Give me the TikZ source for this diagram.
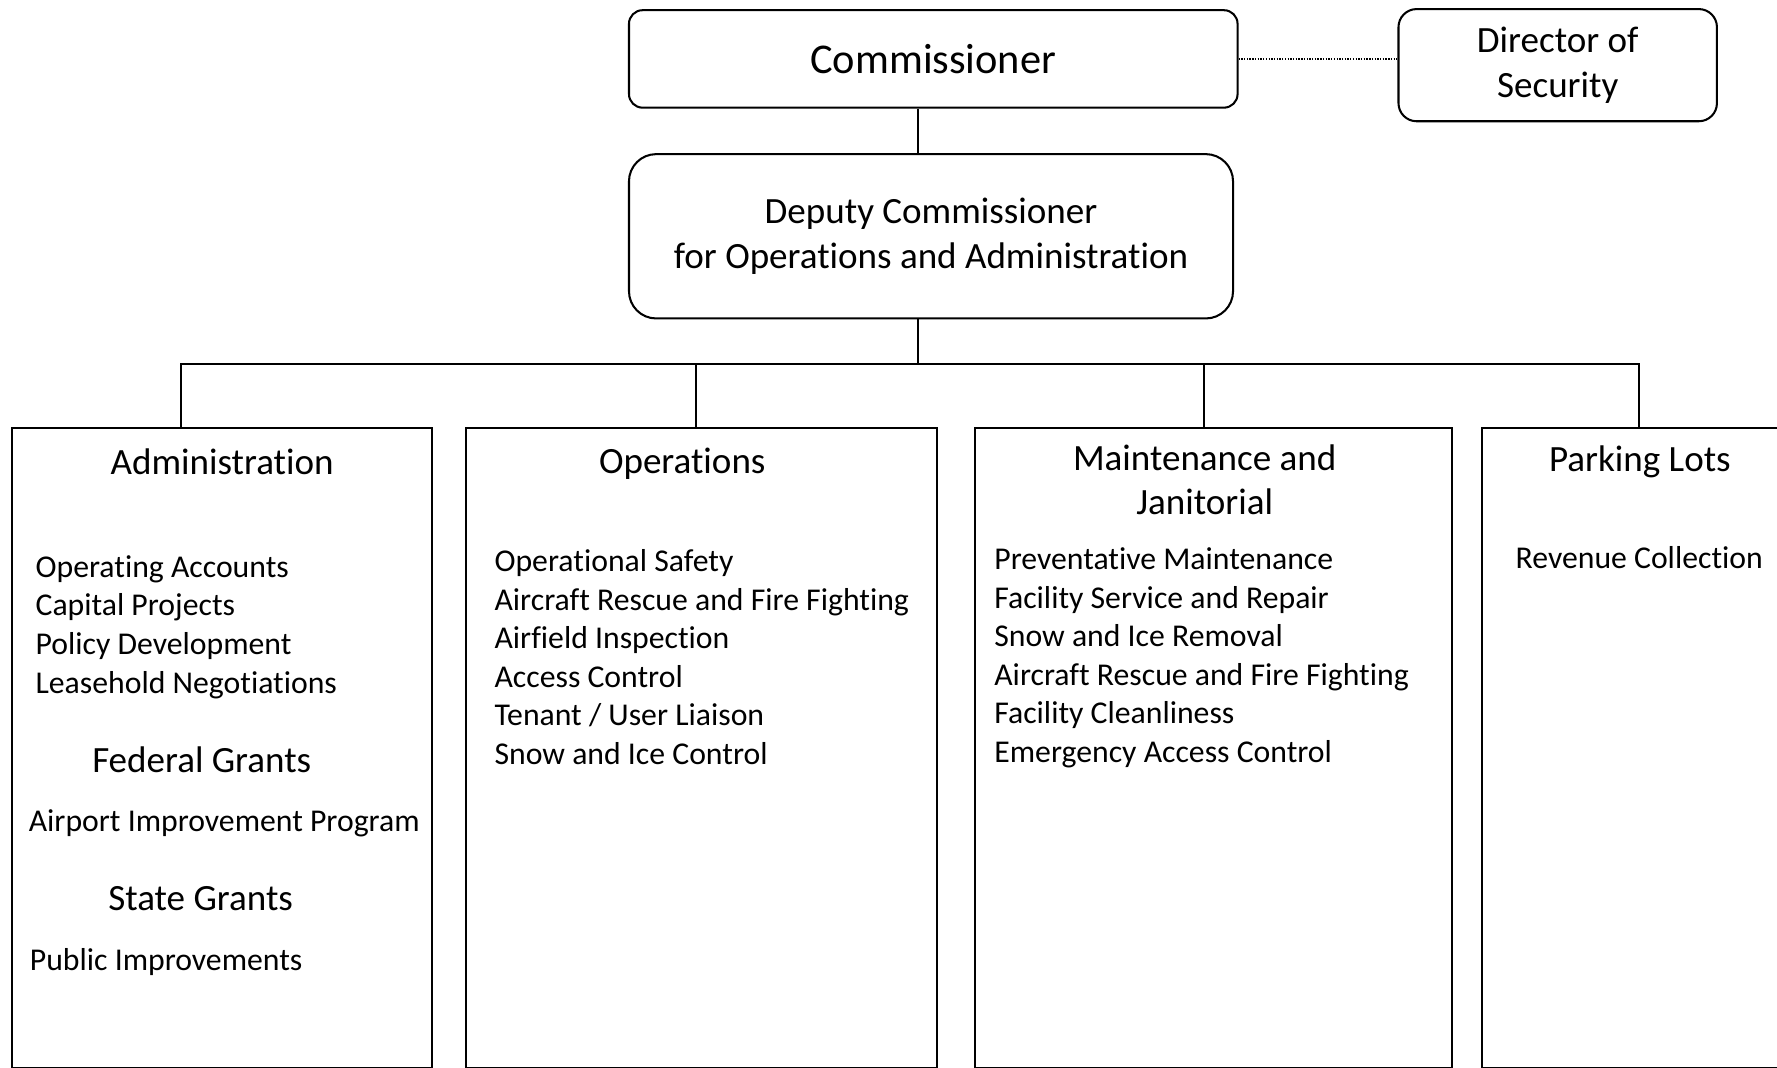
\documentclass[tikz,border=0pt]{standalone}
\usepackage{fontspec}
\setmainfont{Carlito}[Ligatures=NoCommon]
\usepackage{tikz}

\begin{document}
\begin{tikzpicture}[x=0.5pt,y=-0.5pt]
% Styles
\tikzstyle{lien}=[line width=0.9pt]
\tikzstyle{pointille}=[line width=0.6pt,dash pattern=on 0.6pt off 0.6pt]
\tikzstyle{chef}=[draw,line width=0.9pt,align=center]
\tikzstyle{service}=[draw,line width=0.9pt,anchor=north west,inner sep=0pt]
\tikzstyle{titre}=[anchor=base,align=center,inner sep=0pt,font=\fontsize{16.35}{19.5}\selectfont]
\tikzstyle{liste}=[anchor=base west,align=left,inner sep=0pt,font=\fontsize{14}{17}\selectfont]
% Dimensions (base = ligne du bas)
\def\U{0.5pt}
\def\HautServices{376.5}
\def\HautService{565}
\def\Bus{321}
% Cadre
\clip (0,0) rectangle (1568,942);
% Noeuds du haut
\node[chef,rounded corners=6pt,minimum width=537*\U,minimum height=86*\U,font=\fontsize{18.7}{22}\selectfont] (C) at (823.5,52) {Commissioner};
\node[chef,rounded corners=8pt,minimum width=281*\U,minimum height=99*\U,font=\fontsize{16.35}{20}\selectfont] (S) at (1374.5,57.5) {Director of\\Security};
\node[chef,rounded corners=12pt,minimum width=533*\U,minimum height=145*\U,font=\fontsize{16.35}{20}\selectfont] (D) at (821.5,208.5) {Deputy Commissioner\\for Operations and Administration};
% Services
\node[service,minimum width=370*\U,minimum height=\HautService*\U] (A) at (10,\HautServices) {};
\node[service,minimum width=416*\U,minimum height=\HautService*\U] (O) at (410,\HautServices) {};
\node[service,minimum width=421*\U,minimum height=\HautService*\U] (M) at (859,\HautServices) {};
\node[service,minimum width=268*\U,minimum height=\HautService*\U] (P) at (1307,\HautServices) {};
% Titres
\node[titre] (At) at (196,419) {Administration};
\node[titre] (Ot) at (602,418) {Operations};
\node[titre] (Mt) at (1063,454) {Maintenance and\\Janitorial};
\node[titre] (Pt) at (1447,416) {Parking Lots};
\node[titre] (Aft) at (178,682) {Federal Grants};
\node[titre] (Ast) at (177,803) {State Grants};
% Listes
\node[liste] (Al) at (31,611.5) {Operating Accounts\\Capital Projects\\Policy Development\\Leasehold Negotiations};
\node[liste] (Afl) at (25,733.5) {Airport Improvement Program};
\node[liste] (Asl) at (26,856.5) {Public Improvements};
\node[liste] (Ol) at (436,674.5) {Operational Safety\\Aircraft Rescue and Fire Fighting\\Airfield Inspection\\Access Control\\Tenant / User Liaison\\Snow and Ice Control};
\node[liste] (Ml) at (877,672.5) {Preventative Maintenance\\Facility Service and Repair\\Snow and Ice Removal\\Aircraft Rescue and Fire Fighting\\Facility Cleanliness\\Emergency Access Control};
\node[liste] (Pl) at (1337,501.5) {Revenue Collection};
% Arcs
\coordinate (T) at (810,\Bus);
\coordinate (Ba) at (160,\Bus);
\coordinate (Bb) at (614,\Bus);
\coordinate (Bc) at (1062,\Bus);
\coordinate (Bd) at (1446,\Bus);
\draw[lien] (C.south -| T) -- (D.north -| T);
\draw[lien] (D.south -| T) -- (T);
\draw[lien] (Ba |- A.north) -- (Ba) -- (Bd) -- (Bd |- P.north);
\draw[lien] (Bb) -- (Bb |- O.north);
\draw[lien] (Bc) -- (Bc |- M.north);
\draw[pointille] (C.east) -- (C.east -| S.west);
\end{tikzpicture}
\end{document}
